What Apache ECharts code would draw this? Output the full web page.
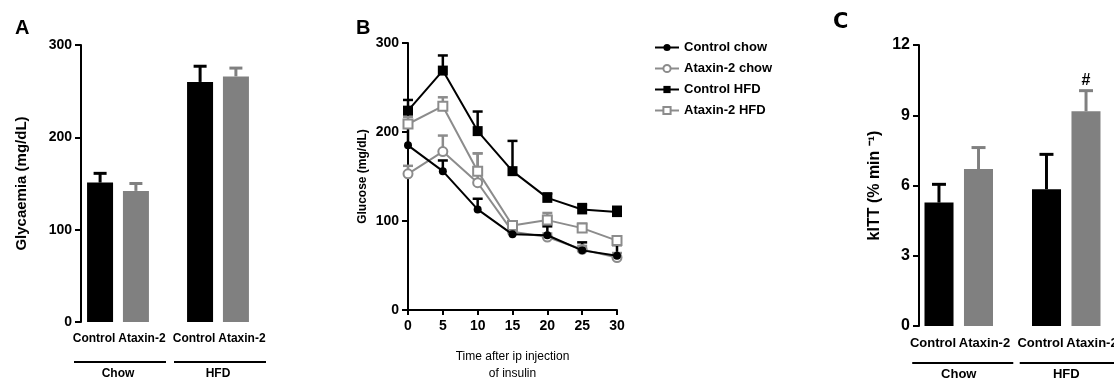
<!DOCTYPE html>
<html>
<head>
<meta charset="utf-8">
<script src="https://cdn.jsdelivr.net/npm/echarts@6/dist/echarts.min.js"></script>
<style>
  body { margin: 0; background: #fff; }
  #chart { width: 1114px; height: 381px; }
</style>
</head>
<body>
<div id="chart"></div>
<script>
// panel A / C groups and bar labels
var groups = ['Chow', 'HFD']
var barNames = ['Control', 'Ataxin-2']

// A: glycaemia (mg/dL), mean and SEM per group
var glyControl = [151, 260]
var glyControlSem = [10, 17]
var glyAtaxin = [142, 266]
var glyAtaxinSem = [8, 9]

// B: insulin tolerance test, glucose (mg/dL)
var timePoints = [0, 5, 10, 15, 20, 25, 30]
var ctrlChow = [185, 156, 113, 85, 84, 67, 61]
var ctrlChowSem = [23, 12, 12, 8, 10, 9, 12]
var ataxChow = [153, 178, 143, 88, 82, 68, 59]
var ataxChowSem = [9, 18, 33, 5, 4, 4, 5]
var ctrlHfd = [224, 269, 201, 156, 126, 113, 110]
var ctrlHfdSem = [12, 17, 22, 34, 5, 6, 6]
var ataxHfd = [209, 229, 156, 95, 101, 92, 78]
var ataxHfdSem = [8, 10, 20, 4, 8, 5, 2]
var lineNames = ['Control chow', 'Ataxin-2 chow', 'Control HFD', 'Ataxin-2 HFD']

// C: kITT (% min-1)
var kittControl = [5.27, 5.84]
var kittControlSem = [0.78, 1.49]
var kittAtaxin = [6.70, 9.17]
var kittAtaxinSem = [0.92, 0.88]
var kittAtaxinMark = ['', '#']

var BLACK = '#000'
var GREY = '#808080'
var LGREY = '#8c8c8c'
var FONT = 'Liberation Sans, Arial, sans-serif'

var chart = echarts.init(document.getElementById('chart'))

// error bar (upper only) drawn with the axis scales
function errRender(color, shift, capW, lw, marks) {
  return function(params, api) {
    var x = api.value(0)
    var m = api.value(1)
    var s = api.value(2)
    var p0 = api.coord([x, m])
    var p1 = api.coord([x, m + s])
    var dx = shift ? shift * api.size([1, 0])[0] : 0
    var cx = p0[0] + dx
    var style = { stroke: color, lineWidth: lw }
    var children = [
      { type: 'line', shape: { x1: cx, y1: p0[1], x2: cx, y2: p1[1] }, style: style },
      { type: 'line', shape: { x1: cx - capW / 2, y1: p1[1], x2: cx + capW / 2, y2: p1[1] }, style: style }
    ]
    if (marks && marks[params.dataIndex]) {
      children.push({
        type: 'text',
        style: { text: marks[params.dataIndex], x: cx, y: p1[1] - 2, align: 'center', verticalAlign: 'bottom',
          font: 'bold 16px ' + FONT, fill: '#000' }
      })
    }
    return { type: 'group', children: children }
  }
}

// group bracket under the category labels
function bracketRender(drop, half, shift) {
  return function(params, api) {
    var p = api.coord([api.value(0), 0])
    var w = api.size([1, 0])[0] * half
    var cx = p[0] + shift
    return {
      type: 'line',
      shape: { x1: cx - w, y1: p[1] + drop, x2: cx + w, y2: p[1] + drop },
      style: { stroke: '#000', lineWidth: 2 }
    }
  }
}

function errData(xs, means, sems) {
  return means.map(function(v, i) { return [xs[i], v, sems[i]] })
}

var idx = groups.map(function(g, i) { return i })

var axisLineStyle = { color: '#000', width: 2 }

chart.setOption({
  animation: false,
  backgroundColor: '#fff',
  textStyle: { fontFamily: FONT },
  title: [
    { text: 'A', left: 15, top: 18, padding: 0, textStyle: { fontSize: 20, fontWeight: 'bold', color: '#000', fontFamily: FONT } },
    { text: 'B', left: 356, top: 18, padding: 0, textStyle: { fontSize: 20, fontWeight: 'bold', color: '#000', fontFamily: FONT } },
    { text: 'C', left: 833, top: 12, padding: 0, textStyle: { fontSize: 21, fontWeight: 'bold', color: '#000', fontFamily: 'DejaVu Sans, sans-serif' } }
  ],
  legend: {
    orient: 'vertical',
    left: 649,
    top: 36,
    itemWidth: 24,
    itemHeight: 9,
    itemGap: 8,
    selectedMode: false,
    data: lineNames,
    textStyle: { fontSize: 13, fontWeight: 'bold', color: '#000', fontFamily: FONT }
  },
  grid: [
    { left: 68, top: 45, width: 200, bottom: 59, outerBoundsMode: 'none' },
    { left: 408, top: 43, width: 209, bottom: 71, outerBoundsMode: 'none' },
    { left: 905, top: 45, width: 215, bottom: 55, outerBoundsMode: 'none' }
  ],
  xAxis: [
    {
      gridIndex: 0, type: 'category', data: groups,
      axisLine: { show: false }, axisTick: { show: false },
      axisLabel: { margin: 46, fontSize: 12, fontWeight: 'bold', color: '#000' }
    },
    {
      gridIndex: 1, type: 'value', min: 0, max: 30, interval: 5,
      name: 'Time after ip injection\nof insulin', nameLocation: 'middle', nameGap: 38,
      nameTextStyle: { fontSize: 12, color: '#000', lineHeight: 17 },
      axisLine: { lineStyle: axisLineStyle }, axisTick: { length: 5, lineStyle: axisLineStyle },
      splitLine: { show: false },
      axisLabel: { margin: 9, fontSize: 14, fontWeight: 'bold', color: '#000' }
    },
    {
      gridIndex: 2, type: 'category', data: groups,
      axisLine: { show: false }, axisTick: { show: false },
      axisLabel: { margin: 42, fontSize: 13, fontWeight: 'bold', color: '#000' }
    }
  ],
  yAxis: [
    {
      gridIndex: 0, type: 'value', min: 0, max: 300, interval: 100, offset: -13,
      name: 'Glycaemia (mg/dL)', nameLocation: 'middle', nameGap: 52,
      nameTextStyle: { fontSize: 15, fontWeight: 'bold', color: '#000' },
      axisLine: { show: true, lineStyle: axisLineStyle }, axisTick: { show: true, length: 6, lineStyle: axisLineStyle },
      splitLine: { show: false },
      axisLabel: { margin: 9, fontSize: 14, fontWeight: 'bold', color: '#000' }
    },
    {
      gridIndex: 1, type: 'value', min: 0, max: 300, interval: 100,
      name: 'Glucose (mg/dL)', nameLocation: 'middle', nameGap: 39,
      nameTextStyle: { fontSize: 12, fontWeight: 'bold', color: '#000' },
      axisLine: { show: true, lineStyle: axisLineStyle }, axisTick: { show: true, length: 6, lineStyle: axisLineStyle },
      splitLine: { show: false },
      axisLabel: { margin: 9, fontSize: 14, fontWeight: 'bold', color: '#000' }
    },
    {
      gridIndex: 2, type: 'value', min: 0, max: 12, interval: 3, offset: -14,
      name: 'kITT (% min \u207B\u00B9)', nameLocation: 'middle', nameGap: 36,
      nameTextStyle: { fontSize: 16, fontWeight: 'bold', color: '#000' },
      axisLine: { show: true, lineStyle: axisLineStyle }, axisTick: { show: true, length: 6, lineStyle: axisLineStyle },
      splitLine: { show: false },
      axisLabel: { margin: 9, fontSize: 16, fontWeight: 'bold', color: '#000' }
    }
  ],
  series: [
    // ---- A ----
    {
      name: barNames[0], type: 'bar', xAxisIndex: 0, yAxisIndex: 0, data: glyControl,
      barWidth: '26%', barGap: '38%', itemStyle: { color: BLACK },
      label: { show: true, position: 'bottom', distance: 11, offset: [-6, 0], formatter: barNames[0],
        fontSize: 12, fontWeight: 'bold', color: '#000' }
    },
    {
      name: barNames[1], type: 'bar', xAxisIndex: 0, yAxisIndex: 0, data: glyAtaxin,
      barWidth: '26%', barGap: '38%', itemStyle: { color: GREY },
      label: { show: true, position: 'bottom', distance: 11, offset: [6, 0], formatter: barNames[1],
        fontSize: 12, fontWeight: 'bold', color: '#000' }
    },
    {
      type: 'custom', xAxisIndex: 0, yAxisIndex: 0, z: 3,
      renderItem: errRender(BLACK, -0.179, 13, 3),
      data: errData(idx, glyControl, glyControlSem)
    },
    {
      type: 'custom', xAxisIndex: 0, yAxisIndex: 0, z: 3,
      renderItem: errRender(GREY, 0.179, 13, 3),
      data: errData(idx, glyAtaxin, glyAtaxinSem)
    },
    {
      type: 'custom', xAxisIndex: 0, yAxisIndex: 0,
      renderItem: bracketRender(40, 0.46, 2),
      data: idx.map(function(i) { return [i, 0] })
    },
    // ---- B ----
    {
      type: 'custom', xAxisIndex: 1, yAxisIndex: 1, z: 1,
      renderItem: errRender(BLACK, 0, 10, 2.5),
      data: errData(timePoints, ctrlChow, ctrlChowSem)
    },
    {
      type: 'custom', xAxisIndex: 1, yAxisIndex: 1, z: 1,
      renderItem: errRender(LGREY, 0, 10, 2.5),
      data: errData(timePoints, ataxChow, ataxChowSem)
    },
    {
      type: 'custom', xAxisIndex: 1, yAxisIndex: 1, z: 1,
      renderItem: errRender(BLACK, 0, 10, 2.5),
      data: errData(timePoints, ctrlHfd, ctrlHfdSem)
    },
    {
      type: 'custom', xAxisIndex: 1, yAxisIndex: 1, z: 1,
      renderItem: errRender(LGREY, 0, 10, 2.5),
      data: errData(timePoints, ataxHfd, ataxHfdSem)
    },
    {
      name: lineNames[1], type: 'line', xAxisIndex: 1, yAxisIndex: 1, z: 2,
      data: timePoints.map(function(t, i) { return [t, ataxChow[i]] }),
      symbol: 'emptyCircle', symbolSize: 9,
      lineStyle: { color: LGREY, width: 2 },
      itemStyle: { color: LGREY, borderColor: LGREY, borderWidth: 2 }
    },
    {
      name: lineNames[3], type: 'line', xAxisIndex: 1, yAxisIndex: 1, z: 2,
      data: timePoints.map(function(t, i) { return [t, ataxHfd[i]] }),
      symbol: 'emptyRect', symbolSize: 9,
      lineStyle: { color: LGREY, width: 2 },
      itemStyle: { color: LGREY, borderColor: LGREY, borderWidth: 2 }
    },
    {
      name: lineNames[0], type: 'line', xAxisIndex: 1, yAxisIndex: 1, z: 3,
      data: timePoints.map(function(t, i) { return [t, ctrlChow[i]] }),
      symbol: 'circle', symbolSize: 8,
      lineStyle: { color: BLACK, width: 2 },
      itemStyle: { color: BLACK }
    },
    {
      name: lineNames[2], type: 'line', xAxisIndex: 1, yAxisIndex: 1, z: 3,
      data: timePoints.map(function(t, i) { return [t, ctrlHfd[i]] }),
      symbol: 'rect', symbolSize: 10,
      lineStyle: { color: BLACK, width: 2 },
      itemStyle: { color: BLACK }
    },
    // ---- C ----
    {
      name: barNames[0], type: 'bar', xAxisIndex: 2, yAxisIndex: 2, data: kittControl,
      barWidth: '27%', barGap: '36%', itemStyle: { color: BLACK },
      label: { show: true, position: 'bottom', distance: 11, offset: [-6, 0], formatter: barNames[0],
        fontSize: 13, fontWeight: 'bold', color: '#000' }
    },
    {
      name: barNames[1], type: 'bar', xAxisIndex: 2, yAxisIndex: 2, data: kittAtaxin,
      barWidth: '27%', barGap: '36%', itemStyle: { color: GREY },
      label: { show: true, position: 'bottom', distance: 11, offset: [6, 0], formatter: barNames[1],
        fontSize: 13, fontWeight: 'bold', color: '#000' }
    },
    {
      type: 'custom', xAxisIndex: 2, yAxisIndex: 2, z: 3,
      renderItem: errRender(BLACK, -0.184, 14, 3),
      data: errData(idx, kittControl, kittControlSem)
    },
    {
      type: 'custom', xAxisIndex: 2, yAxisIndex: 2, z: 3,
      renderItem: errRender(GREY, 0.184, 14, 3, kittAtaxinMark),
      data: errData(idx, kittAtaxin, kittAtaxinSem)
    },
    {
      type: 'custom', xAxisIndex: 2, yAxisIndex: 2,
      renderItem: bracketRender(37, 0.47, 4),
      data: idx.map(function(i) { return [i, 0] })
    }
  ]
})
</script>
</body>
</html>
